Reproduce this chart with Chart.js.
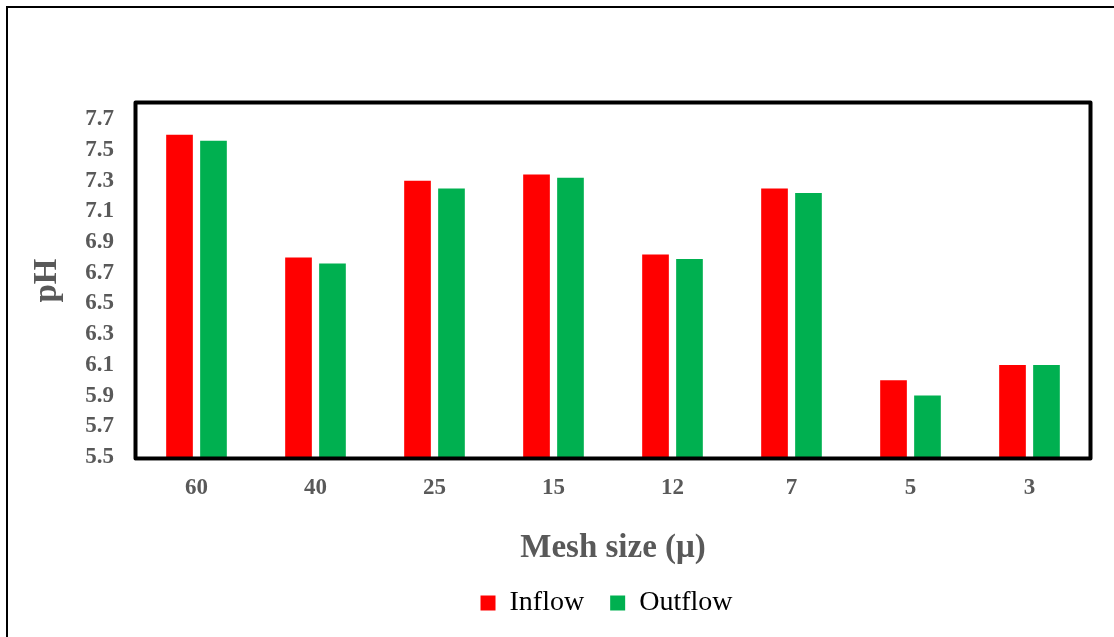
<!DOCTYPE html>
<html>
<head>
<meta charset="utf-8">
<script src="https://cdn.jsdelivr.net/npm/chart.js@4"></script>
<style>
  html, body { margin: 0; padding: 0; background: #fff; }
  #wrap { width: 1114px; height: 637px; position: relative; }
</style>
</head>
<body>
<div id="wrap"><canvas id="c" width="1114" height="637"></canvas></div>
<script>
const categories = ["60", "40", "25", "15", "12", "7", "5", "3"];
const inflow  = [7.60, 6.80, 7.30, 7.34, 6.82, 7.25, 6.00, 6.10];
const outflow = [7.56, 6.76, 7.25, 7.32, 6.79, 7.22, 5.90, 6.10];
const yTicks = [5.5, 5.7, 5.9, 6.1, 6.3, 6.5, 6.7, 6.9, 7.1, 7.3, 7.5, 7.7];
const yMin = 5.5, yMax = 7.8;

const GREY = '#595959';
const SERIF = '"Liberation Serif", "Times New Roman", serif';

const framePlugin = {
  id: 'frame',
  afterLayout(chart) {
    if (chart.legend) {
      chart.legend.left += 62;
      chart.legend.right += 62;
    }
  },
  beforeDraw(chart) {
    const ctx = chart.ctx;
    ctx.save();
    ctx.fillStyle = '#fff';
    ctx.fillRect(0, 0, chart.width, chart.height);
    ctx.strokeStyle = '#000';
    ctx.lineWidth = 2;
    ctx.beginPath();
    ctx.moveTo(7, chart.height + 5);
    ctx.lineTo(7, 7);
    ctx.lineTo(chart.width + 5, 7);
    ctx.stroke();
    ctx.restore();
  },
  afterDatasetsDraw(chart) {
    const a = chart.chartArea;
    const ctx = chart.ctx;
    ctx.save();
    ctx.strokeStyle = '#000';
    ctx.lineWidth = 4;
    ctx.lineJoin = 'round';
    ctx.strokeRect(a.left - 1.5, a.top - 1.5, a.right - a.left + 3, a.bottom - a.top + 3);
    ctx.strokeStyle = '#8c8c8c';
    ctx.lineWidth = 1;
    ctx.beginPath();
    ctx.moveTo(a.left - 1, a.bottom + 3.5);
    ctx.lineTo(a.right + 2, a.bottom + 3.5);
    ctx.stroke();
    ctx.restore();
  }
};

new Chart(document.getElementById('c'), {
  type: 'bar',
  data: {
    labels: categories,
    datasets: [
      { label: 'Inflow', data: inflow, backgroundColor: '#FF0000', borderWidth: 0,
        categoryPercentage: 0.571, barPercentage: 0.785 },
      { label: 'Outflow', data: outflow, backgroundColor: '#00B050', borderWidth: 0,
        categoryPercentage: 0.571, barPercentage: 0.785 }
    ]
  },
  options: {
    responsive: false,
    animation: false,
    layout: { padding: { top: 104, right: 25, left: 0, bottom: 10 } },
    plugins: {
      tooltip: { enabled: false },
      legend: {
        position: 'bottom',
        labels: {
          color: '#000',
          font: { family: SERIF, size: 28 },
          boxWidth: 15,
          boxHeight: 15,
          padding: 26
        }
      }
    },
    scales: {
      x: {
        grid: { display: false, drawTicks: false },
        border: { display: false },
        ticks: { color: GREY, font: { family: SERIF, size: 23, weight: 'bold' }, padding: 17 },
        title: { display: true, text: 'Mesh size (μ)', color: GREY,
                 font: { family: SERIF, size: 33, weight: 'bold' }, padding: { top: 0, bottom: -5 } },
        afterFit(scale) { scale.height = 106; }
      },
      y: {
        min: yMin,
        max: yMax,
        grid: { display: false, drawTicks: false },
        border: { display: false },
        afterBuildTicks(scale) { scale.ticks = yTicks.map(v => ({ value: v })); },
        ticks: {
          color: GREY,
          font: { family: SERIF, size: 23, weight: 'bold' },
          padding: 23,
          callback: (v) => Number(v).toFixed(1)
        },
        title: { display: true, text: 'pH', color: GREY,
                 font: { family: SERIF, size: 33, weight: 'bold' }, padding: { top: 28, bottom: 0 } },
        afterFit(scale) { scale.width = 137; }
      }
    }
  },
  plugins: [framePlugin]
});
</script>
</body>
</html>
